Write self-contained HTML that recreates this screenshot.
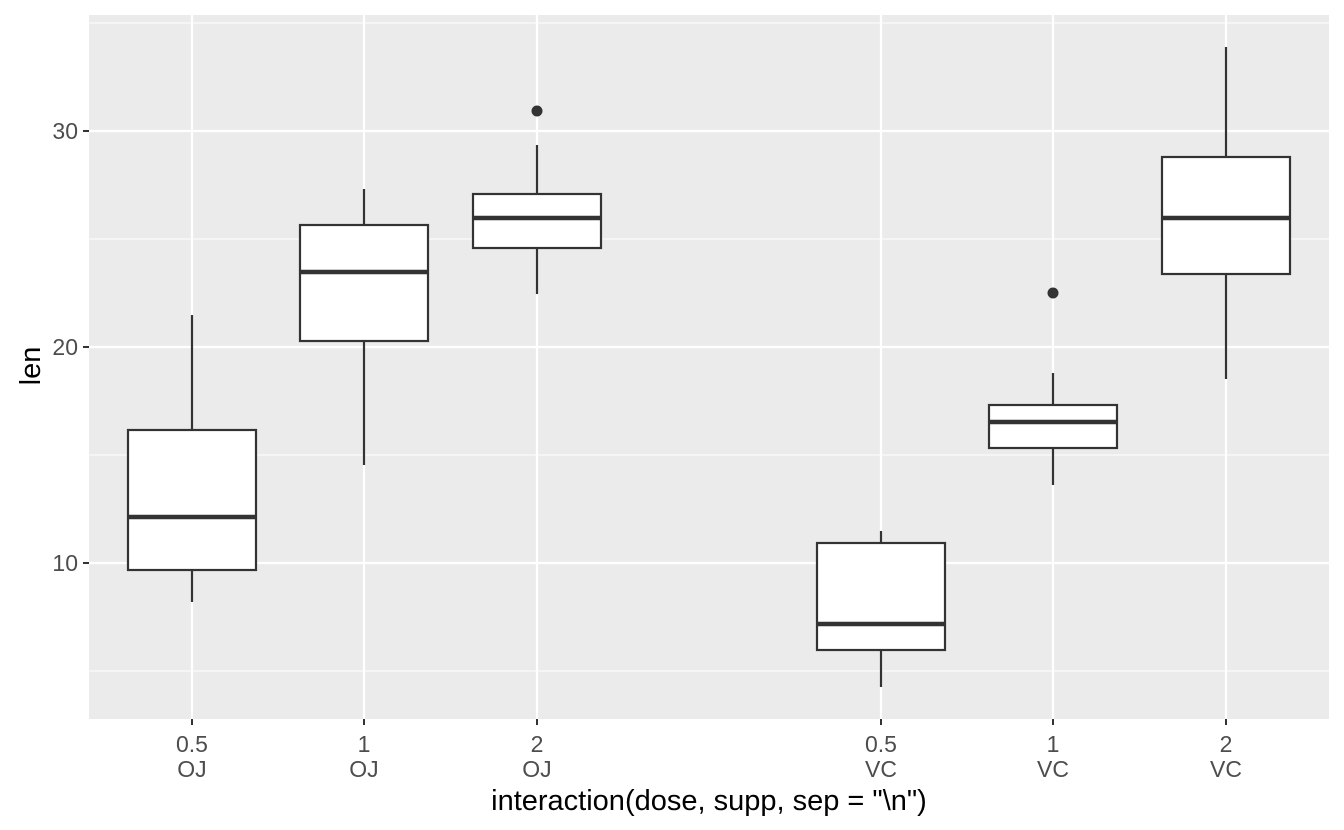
<!DOCTYPE html>
<html><head><style>body{margin:0;background:#fff}svg{display:block}</style></head><body>
<svg width="1344" height="830" xmlns="http://www.w3.org/2000/svg" font-family="Liberation Sans, sans-serif">
<rect x="89" y="15" width="1240" height="704" fill="#ebebeb"/>
<g stroke="#fff" stroke-width="1.1">
<line x1="89" x2="1329" y1="671" y2="671"/><line x1="89" x2="1329" y1="455" y2="455"/><line x1="89" x2="1329" y1="239" y2="239"/><line x1="89" x2="1329" y1="23" y2="23"/>
</g>
<g stroke="#fff" stroke-width="2.2">
<line x1="89" x2="1329" y1="563" y2="563"/><line x1="89" x2="1329" y1="347" y2="347"/><line x1="89" x2="1329" y1="131" y2="131"/>
<line x1="192" x2="192" y1="15" y2="719"/><line x1="364" x2="364" y1="15" y2="719"/><line x1="537" x2="537" y1="15" y2="719"/><line x1="881" x2="881" y1="15" y2="719"/><line x1="1053" x2="1053" y1="15" y2="719"/><line x1="1226" x2="1226" y1="15" y2="719"/>
</g>
<g stroke="#333" stroke-width="2.2" fill="#fff">
<line x1="192" x2="192" y1="602" y2="315"/><rect x="128" y="430" width="128" height="140"/><line x1="128" x2="256" y1="517" y2="517" stroke-width="4.5"/>
<line x1="364" x2="364" y1="465" y2="189"/><rect x="300" y="225" width="128" height="116"/><line x1="300" x2="428" y1="272" y2="272" stroke-width="4.5"/>
<line x1="537" x2="537" y1="294" y2="145"/><rect x="473" y="194" width="128" height="54"/><line x1="473" x2="601" y1="218" y2="218" stroke-width="4.5"/>
<line x1="881" x2="881" y1="687" y2="531"/><rect x="817" y="543" width="128" height="107"/><line x1="817" x2="945" y1="624" y2="624" stroke-width="4.5"/>
<line x1="1053" x2="1053" y1="485" y2="373"/><rect x="989" y="405" width="128" height="43"/><line x1="989" x2="1117" y1="422" y2="422" stroke-width="4.5"/>
<line x1="1226" x2="1226" y1="379" y2="47"/><rect x="1162" y="157" width="128" height="117"/><line x1="1162" x2="1290" y1="218" y2="218" stroke-width="4.5"/>
</g>
<circle cx="537" cy="111" r="5.5" fill="#333"/><circle cx="1053" cy="293" r="5.5" fill="#333"/>
<g stroke="#333" stroke-width="2">
<line x1="83" x2="89" y1="563" y2="563"/><line x1="83" x2="89" y1="347" y2="347"/><line x1="83" x2="89" y1="131" y2="131"/>
<line x1="192" x2="192" y1="719" y2="725"/><line x1="364" x2="364" y1="719" y2="725"/><line x1="537" x2="537" y1="719" y2="725"/><line x1="881" x2="881" y1="719" y2="725"/><line x1="1053" x2="1053" y1="719" y2="725"/><line x1="1226" x2="1226" y1="719" y2="725"/>
</g>
<g fill="#4d4d4d" font-size="23" text-anchor="end">
<text x="78" y="571">10</text><text x="78" y="355">20</text><text x="78" y="139">30</text>
</g>
<g fill="#4d4d4d" font-size="23" text-anchor="middle">
<text x="192" y="752">0.5</text><text x="192" y="777">OJ</text>
<text x="364" y="752">1</text><text x="364" y="777">OJ</text>
<text x="537" y="752">2</text><text x="537" y="777">OJ</text>
<text x="881" y="752">0.5</text><text x="881" y="777">VC</text>
<text x="1053" y="752">1</text><text x="1053" y="777">VC</text>
<text x="1226" y="752">2</text><text x="1226" y="777">VC</text>
</g>
<text x="709" y="810" font-size="29" text-anchor="middle" fill="#000">interaction(dose, supp, sep = "\n")</text>
<text transform="translate(40,366) rotate(-90)" font-size="29" text-anchor="middle" fill="#000">len</text>
</svg>
</body></html>
